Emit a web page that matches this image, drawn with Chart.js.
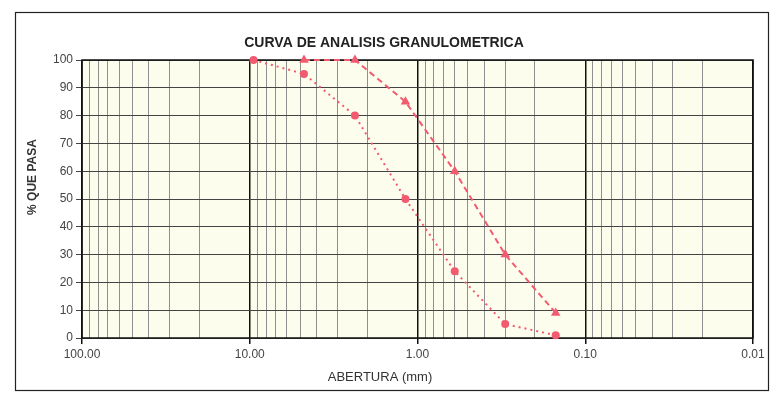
<!DOCTYPE html>
<html>
<head>
<meta charset="utf-8">
<script src="https://cdn.jsdelivr.net/npm/chart.js@4"></script>
<style>
  body { margin: 0; background: #fff; }
</style>
</head>
<body>
<canvas id="granuloChart" width="774" height="400"></canvas>
<script>
// sieve openings (mm) and % passing
const aberturas = [9.5, 4.75, 2.36, 1.18, 0.6, 0.3, 0.15];
const pasaCurva1 = [100, 95, 80, 50, 24, 5, 1];
const pasaCurva2 = [null, 100, 100, 85, 60, 30, 9];

const decadas = [100, 10, 1, 0.1, 0.01];
const etiquetasDecada = ['100.00', '10.00', '1.00', '0.10', '0.01'];

// log grid: 1..9 per decade
const gridX = [];
[0.01, 0.1, 1, 10].forEach(d => {
  for (let m = 1; m <= 9; m++) gridX.push(d * m);
});
gridX.push(100);

const toPoints = ys => aberturas
  .map((x, i) => ({ x: x, y: ys[i] }))
  .filter(p => p.y !== null);

const rojo = '#f25a70';
const fuente = '"Liberation Sans", Arial, sans-serif';

const marco = {
  id: 'marco',
  beforeDraw(chart) {
    const { ctx, chartArea: a } = chart;
    ctx.save();
    ctx.fillStyle = '#fdfdee';
    ctx.fillRect(a.left, a.top, a.right - a.left, a.bottom - a.top);
    ctx.restore();
  },
  beforeDatasetsDraw(chart) {
    const { ctx, chartArea: a } = chart;
    ctx.save();
    ctx.strokeStyle = '#111';
    ctx.lineWidth = 1.5;
    ctx.strokeRect(a.left, a.top, a.right - a.left, a.bottom - a.top);
    ctx.restore();
  },
  afterDraw(chart) {
    const { ctx } = chart;
    ctx.save();
    ctx.lineWidth = 1.2;
    ctx.strokeStyle = '#222';
    ctx.strokeRect(15.5, 12.5, 753, 378);

    ctx.fillStyle = '#333';
    ctx.textAlign = 'center';
    ctx.textBaseline = 'middle';
    ctx.font = '13px ' + fuente;
    ctx.fillText('ABERTURA (mm)', 380, 377);

    ctx.translate(33, 177);
    ctx.rotate(-Math.PI / 2);
    ctx.font = 'bold 12px ' + fuente;
    ctx.fillText('% QUE PASA', 0, 0);
    ctx.restore();
  }
};

const ctx = document.getElementById('granuloChart').getContext('2d');
new Chart(ctx, {
  type: 'scatter',
  data: {
    datasets: [{
      label: 'Curva 1',
      data: toPoints(pasaCurva1),
      showLine: true,
      clip: false,
      borderColor: rojo,
      backgroundColor: rojo,
      borderWidth: 2,
      borderDash: [2, 4],
      pointStyle: 'circle',
      pointRadius: 4,
      pointBorderWidth: 0
    }, {
      label: 'Curva 2',
      data: toPoints(pasaCurva2),
      showLine: true,
      clip: false,
      borderColor: rojo,
      backgroundColor: rojo,
      borderWidth: 2,
      borderDash: [6, 4],
      pointStyle: 'triangle',
      pointRadius: 5.5,
      pointBorderWidth: 0
    }]
  },
  options: {
    responsive: false,
    animation: false,
    layout: { padding: { left: 15, right: 21, top: 12, bottom: 10 } },
    plugins: {
      legend: { display: false },
      tooltip: { enabled: false },
      title: {
        display: true,
        text: 'CURVA DE ANALISIS GRANULOMETRICA',
        color: '#222',
        font: { family: fuente, size: 14, weight: 'bold' },
        padding: { top: 23, bottom: 8.2 }
      }
    },
    scales: {
      x: {
        type: 'logarithmic',
        reverse: true,
        min: 0.01,
        max: 100,
        afterBuildTicks(scale) {
          scale.ticks = gridX.map(v => ({ value: v, major: decadas.includes(v) }));
        },
        afterFit(scale) { scale.height = 52; },
        border: { display: false },
        grid: {
          color: c => (c.tick && c.tick.major) ? '#111' : '#909090',
          lineWidth: c => (c.tick && c.tick.major) ? 1.5 : 1,
          tickLength: 6,
          tickColor: c => (c.tick && c.tick.major) ? '#111' : 'rgba(0,0,0,0)'
        },
        ticks: {
          autoSkip: false,
          maxRotation: 0,
          padding: 3,
          color: '#444',
          font: { family: fuente, size: 12 },
          callback: v => {
            const i = decadas.indexOf(v);
            return i >= 0 ? etiquetasDecada[i] : '';
          }
        }
      },
      y: {
        min: 0,
        max: 100,
        afterFit(scale) { scale.width = 67; },
        border: { display: false },
        grid: { color: '#444', tickLength: 6 },
        ticks: {
          stepSize: 10,
          padding: 3,
          color: '#444',
          font: { family: fuente, size: 12 }
        }
      }
    }
  },
  plugins: [marco]
});
</script>
</body>
</html>
